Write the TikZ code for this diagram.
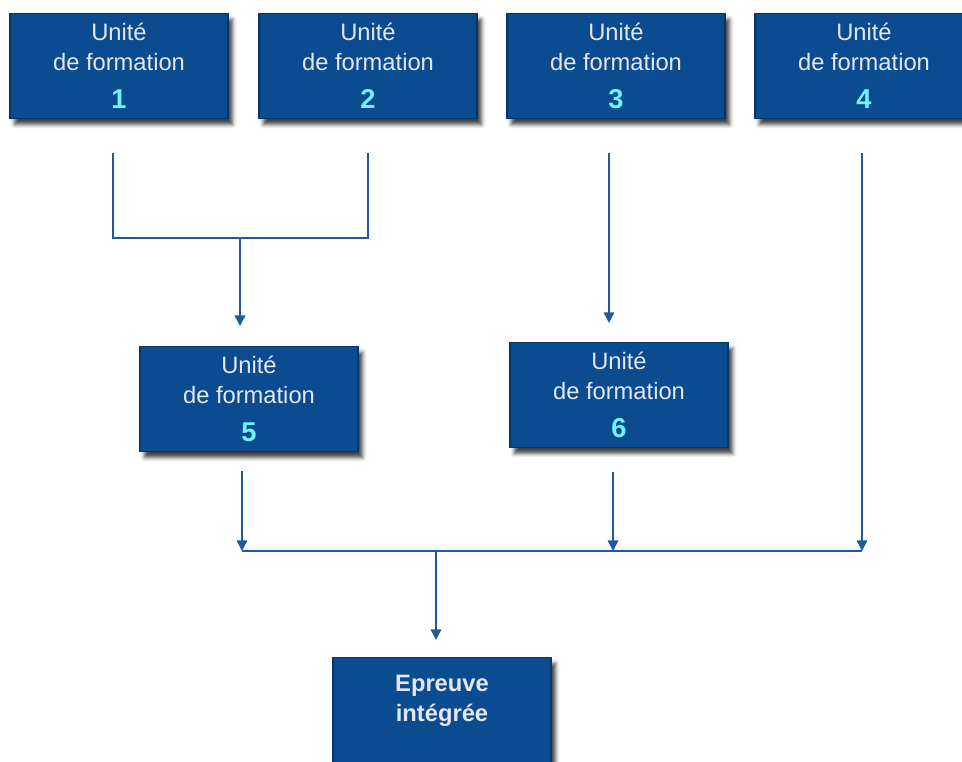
\documentclass[tikz,border=0pt]{standalone}
\usepackage{fontspec}
\setmainfont{Liberation Sans}
\usetikzlibrary{arrows.meta,positioning,calc,shadows,shadows.blur}
\definecolor{ufBlue} {HTML}{0B4B8F}
\definecolor{ufEdge} {HTML}{06356A}
\definecolor{ufWire} {HTML}{1E5A9C}
\definecolor{ufText} {HTML}{E4E8EE}
\definecolor{ufCyan} {HTML}{6FF3FF}
\newcommand{\ufnum}[1]{{\fontsize{15.5}{17}\selectfont\bfseries\color{ufCyan}#1}}

\begin{document}
\begin{tikzpicture}[font=\fontsize{13.5}{17}\selectfont,
      box/.style={fill=ufBlue,draw=ufEdge,line width=0.6pt,
                  minimum width=4.36cm,minimum height=2.1cm,inner sep=0pt,
                  align=center,text=ufText,
                  blur shadow={shadow xshift=0.09cm,shadow yshift=-0.12cm,
                               shadow blur radius=0.08cm,shadow opacity=75}},
      wire/.style={draw=ufWire,line width=0.9pt},
      arr/.style={wire,-{Triangle[length=6pt,width=6pt]}}]
    \useasboundingbox (0,0) rectangle (19.24,15.24);

    % TOP ROW - four units
    \node[box] (u1) at (2.38,13.92) {Unité\\de formation\\[4.5pt]\ufnum{1}};
    \node[box] (u2) at (7.36,13.92) {Unité\\de formation\\[4.5pt]\ufnum{2}};
    \node[box] (u3) at (12.32,13.92) {Unité\\de formation\\[4.5pt]\ufnum{3}};
    \node[box] (u4) at (17.28,13.92) {Unité\\de formation\\[4.5pt]\ufnum{4}};

    % MIDDLE ROW
    \node[box] (u5) at (4.98,7.26) {Unité\\de formation\\[4.5pt]\ufnum{5}};
    \node[box] (u6) at (12.38,7.34) {Unité\\de formation\\[4.5pt]\ufnum{6}};

    % FINAL
    \node[box,font=\fontsize{13.5}{17}\selectfont\bfseries,text depth=13pt] (ep) at (8.84,1.04) {Epreuve\\intégrée};

    % junctions
    \coordinate (b12) at (4.80,10.48);
    \coordinate (bus) at (8.72,4.22);

    % 1 + 2 -> 5
    \draw[wire] ([shift={(-0.12,-0.68)}]u1.south) |- (b12);
    \draw[wire] ([yshift=-0.68cm]u2.south) |- (b12);
    \draw[arr,shorten >=0.4cm] (b12) -- (b12 |- u5.north);
    % 3 -> 6
    \draw[arr] ([shift={(-0.14,-0.68)}]u3.south) -- ([shift={(-0.2,0.38)}]u6.north);

    % 5, 6, 4 -> bus
    \draw[arr] ([shift={(-0.14,-0.38)}]u5.south) -- ([xshift=-0.14cm]u5.south |- bus);
    \draw[arr] ([shift={(-0.12,-0.48)}]u6.south) -- ([xshift=-0.12cm]u6.south |- bus);
    \draw[arr] ([shift={(-0.04,-0.68)}]u4.south) -- ([xshift=-0.04cm]u4.south |- bus);
    \draw[wire] ([xshift=-0.14cm]u5.south |- bus) -- ([xshift=-0.04cm]u4.south |- bus);

    % bus -> epreuve
    \draw[arr,shorten >=0.34cm] (bus) -- ([xshift=-0.12cm]ep.north);
  \end{tikzpicture}
\end{document}
